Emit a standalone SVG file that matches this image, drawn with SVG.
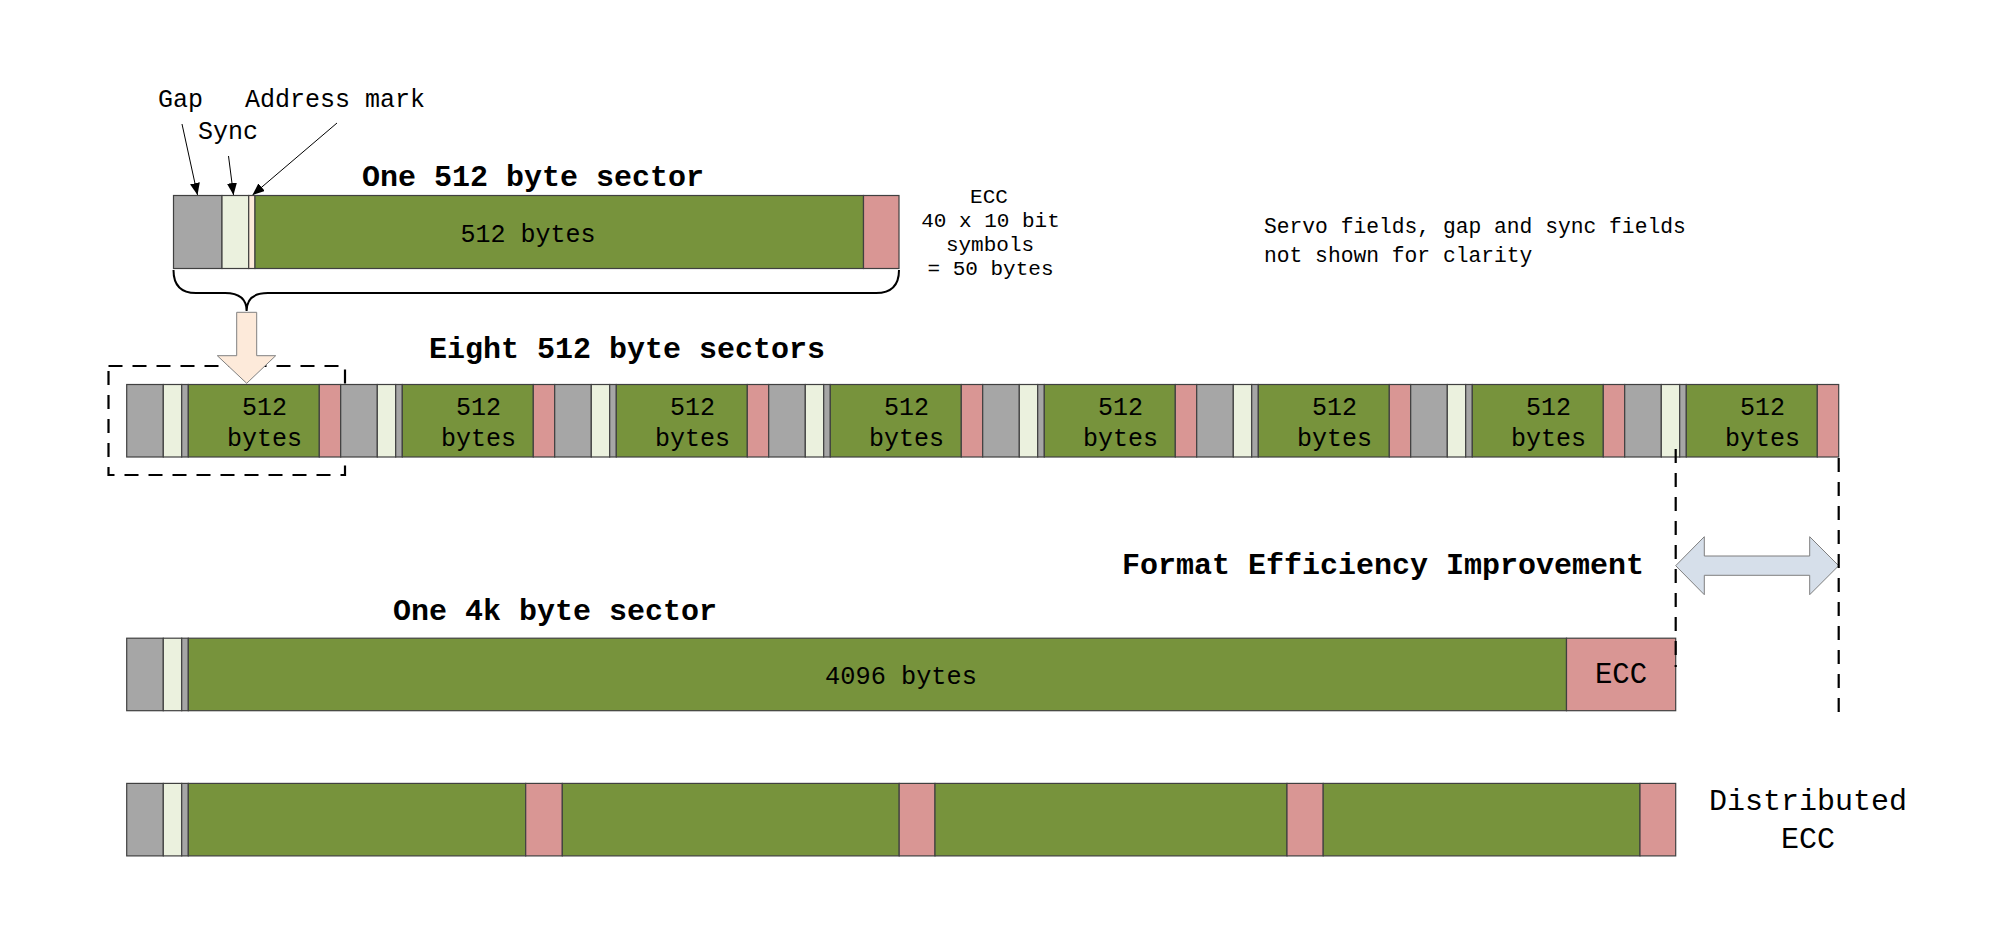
<svg xmlns="http://www.w3.org/2000/svg" width="2000" height="931" viewBox="0 0 2000 931">
<defs>
<style>
.t{font-family:"Liberation Mono","Courier New",monospace;fill:#000}
.b{font-weight:bold;font-size:30px}
.gap{fill:#a6a6a6;stroke:#404040;stroke-width:1.2}
.syn{fill:#ebf1de;stroke:#404040;stroke-width:1.2}
.am{fill:#fdeada;stroke:#404040;stroke-width:1.2}
.dat{fill:#77933c;stroke:#404040;stroke-width:1.2}
.ecc{fill:#d99694;stroke:#404040;stroke-width:1.2}
.dash{fill:none;stroke:#000;stroke-width:2.2;stroke-dasharray:14 10}
.ln{stroke:#000;stroke-width:1;fill:none}
</style>
<marker id="ah" viewBox="0 0 12 10" refX="12" refY="5" markerWidth="12" markerHeight="10" markerUnits="userSpaceOnUse" orient="auto">
<path d="M0,0 L12,5 L0,10 z" fill="#000"/>
</marker>
<g id="sec">
<rect class="gap" x="0" y="0" width="36.6" height="72.5"/>
<rect class="syn" x="36.6" y="0" width="18.4" height="72.5"/>
<rect class="gap" x="55" y="0" width="6.6" height="72.5"/>
<rect class="dat" x="61.6" y="0" width="131" height="72.5"/>
<rect class="ecc" x="192.6" y="0" width="21.4" height="72.5"/>
<text class="t" x="137.8" y="30" font-size="25" text-anchor="middle">512</text>
<text class="t" x="137.8" y="61" font-size="25" text-anchor="middle">bytes</text>
</g>
</defs>
<rect width="2000" height="931" fill="#fff"/>

<g id="labels">
<text class="t" x="158" y="107" font-size="25">Gap</text>
<text class="t" x="198" y="139" font-size="25">Sync</text>
<text class="t" x="245" y="107" font-size="25">Address mark</text>
</g>

<g id="connectors">
<line class="ln" x1="182" y1="124" x2="197.5" y2="195" marker-end="url(#ah)"/>
<line class="ln" x1="228.5" y1="156" x2="233.5" y2="195" marker-end="url(#ah)"/>
<line class="ln" x1="337" y1="123" x2="252.5" y2="195" marker-end="url(#ah)"/>
</g>

<g id="one512">
<text class="t b" x="362" y="186">One 512 byte sector</text>
<rect class="gap" x="173.5" y="195.5" width="48.5" height="73"/>
<rect class="syn" x="222" y="195.5" width="26.7" height="73"/>
<rect class="am" x="248.7" y="195.5" width="6.3" height="73"/>
<rect class="dat" x="255" y="195.5" width="608.5" height="73"/>
<rect class="ecc" x="863.5" y="195.5" width="35.5" height="73"/>
<text class="t" x="460.5" y="242" font-size="25">512 bytes</text>
</g>

<g id="ecc-note" class="t" font-size="21" text-anchor="middle">
<text x="989" y="203">ECC</text>
<text x="990.5" y="227">40 x 10 bit</text>
<text x="990" y="251">symbols</text>
<text x="990.5" y="275">= 50 bytes</text>
</g>

<g id="servo-note" class="t" font-size="21.3">
<text x="1264" y="233">Servo fields, gap and sync fields</text>
<text x="1264" y="262">not shown for clarity</text>
</g>

<g id="brace">
<path d="M173.5,270 Q173.5,293 196,293 L225,293 Q246.6,293 246.6,311 Q246.6,293 268,293 L876,293 Q899,293 899,270" fill="none" stroke="#000" stroke-width="2"/>
</g>

<g id="dashed-box">
<rect class="dash" x="108.5" y="366" width="236.5" height="109" stroke-dasharray="12 8"/>
</g>

<g id="down-arrow">
<path d="M236.7,312.3 L256.7,312.3 L256.7,355.7 L275.7,355.7 L246.7,383.3 L217.3,355.7 L236.7,355.7 Z" fill="#fdeada" stroke="#808080" stroke-width="1"/>
</g>

<g id="eight512">
<text class="t b" x="429" y="358">Eight 512 byte sectors</text>
<use href="#sec" x="126.7" y="384.5"/>
<use href="#sec" x="340.7" y="384.5"/>
<use href="#sec" x="554.7" y="384.5"/>
<use href="#sec" x="768.7" y="384.5"/>
<use href="#sec" x="982.7" y="384.5"/>
<use href="#sec" x="1196.7" y="384.5"/>
<use href="#sec" x="1410.7" y="384.5"/>
<use href="#sec" x="1624.7" y="384.5"/>
</g>

<g id="improvement">
<text class="t b" x="1644" y="574" text-anchor="end">Format Efficiency Improvement</text>
<path d="M1675.7,565.7 L1704.3,536.7 L1704.3,556 L1809.7,556 L1809.7,536.7 L1838.7,565.7 L1809.7,594.7 L1809.7,575.3 L1704.3,575.3 L1704.3,594.7 Z" fill="#d6dfea" stroke="#7f7f7f" stroke-width="1"/>
</g>

<g id="one4k">
<text class="t b" x="393" y="620">One 4k byte sector</text>
<rect class="gap" x="126.7" y="638.2" width="36.6" height="72.5"/>
<rect class="syn" x="163.3" y="638.2" width="18.4" height="72.5"/>
<rect class="gap" x="181.7" y="638.2" width="6.6" height="72.5"/>
<rect class="dat" x="188.3" y="638.2" width="1378.2" height="72.5"/>
<rect class="ecc" x="1566.5" y="638.2" width="109.2" height="72.5"/>
<text class="t" x="901" y="684" font-size="25.3" text-anchor="middle">4096 bytes</text>
<text class="t" x="1621" y="683" font-size="29" text-anchor="middle">ECC</text>
</g>

<g id="distributed">
<rect class="gap" x="126.7" y="783.4" width="36.6" height="72.5"/>
<rect class="syn" x="163.3" y="783.4" width="18.4" height="72.5"/>
<rect class="gap" x="181.7" y="783.4" width="6.6" height="72.5"/>
<rect class="dat" x="188.3" y="783.4" width="337.4" height="72.5"/>
<rect class="ecc" x="525.7" y="783.4" width="36.6" height="72.5"/>
<rect class="dat" x="562.3" y="783.4" width="336.9" height="72.5"/>
<rect class="ecc" x="899.2" y="783.4" width="35.8" height="72.5"/>
<rect class="dat" x="935" y="783.4" width="352" height="72.5"/>
<rect class="ecc" x="1287" y="783.4" width="36.2" height="72.5"/>
<rect class="dat" x="1323.2" y="783.4" width="316.8" height="72.5"/>
<rect class="ecc" x="1640" y="783.4" width="35.7" height="72.5"/>
<text class="t" x="1808" y="810" font-size="30" text-anchor="middle">Distributed</text>
<text class="t" x="1808" y="848" font-size="30" text-anchor="middle">ECC</text>
</g>

<g id="dashed-lines">
<line class="dash" x1="1675.7" y1="449" x2="1675.7" y2="667"/>
<line class="dash" x1="1838.7" y1="712" x2="1838.7" y2="449"/>
</g>
</svg>
